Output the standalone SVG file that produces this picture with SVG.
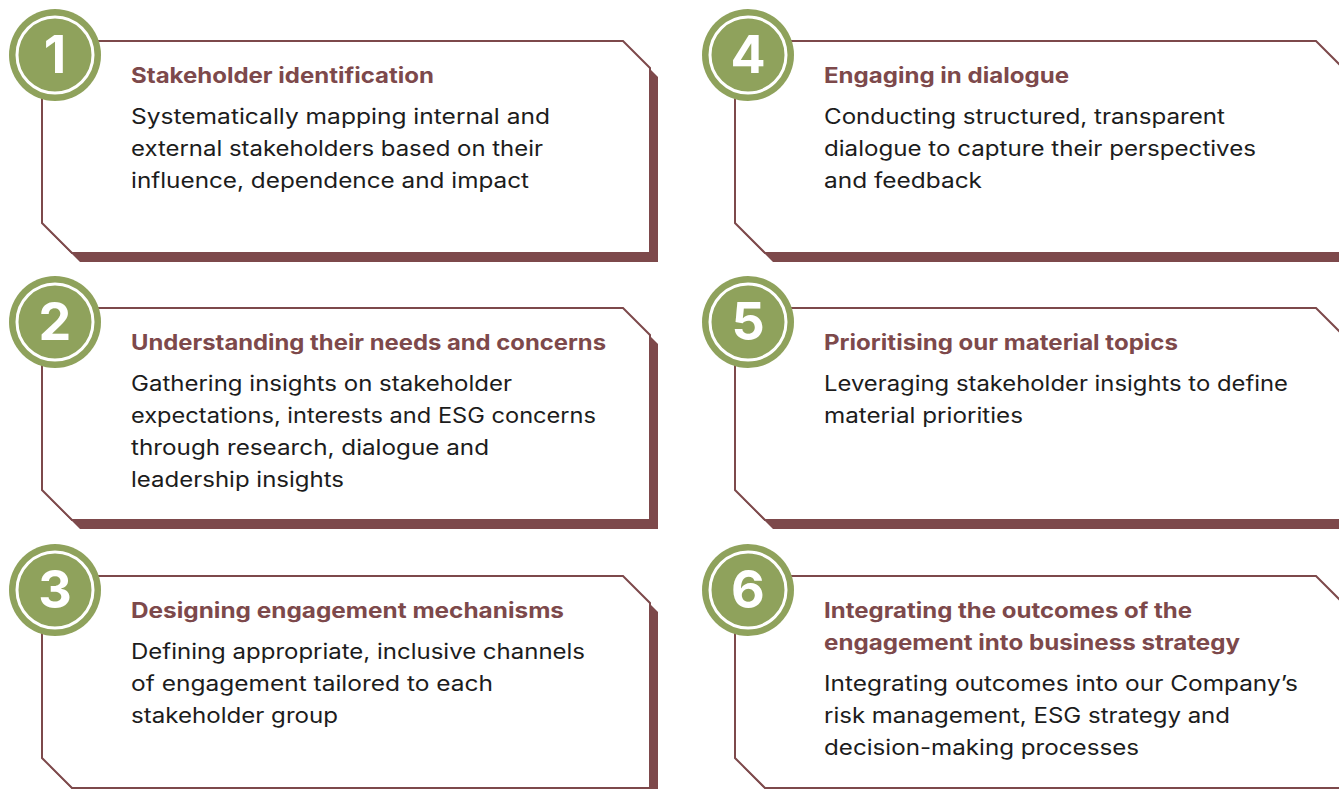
<svg xmlns="http://www.w3.org/2000/svg" xmlns:xlink="http://www.w3.org/1999/xlink" width="1339" height="789" viewBox="0 0 1339 789">
  <style>
    .shadow { fill: #7d494b; }
    .frame { fill: #ffffff; stroke: #7d494b; stroke-width: 2; stroke-linejoin: miter; }
    .badge { fill: #8fa25c; }
    .ring { fill: none; stroke: #ffffff; stroke-width: 3; }
    .num { fill: #ffffff; font-family: Inter, "Liberation Sans", sans-serif; font-weight: 700; font-size: 52px; text-anchor: middle; }
    .title { fill: #7d494b; font-family: Inter, "Liberation Sans", sans-serif; font-weight: 700; font-size: 21px; }
    .body { fill: #1c1c1c; font-family: Inter, "Liberation Sans", sans-serif; font-weight: 400; font-size: 21px; }
  </style>
  <defs>
    <!-- chamfered card outline: clipped top-right and bottom-left corners -->
    <path id="card" d="M42,41 H623 L650,68 V253 H72 L42,223 Z"/>
    <g id="badge">
      <circle class="badge" cx="55" cy="55" r="46"/>
      <circle class="ring" cx="55" cy="55" r="38"/>
    </g>
  </defs>

  <rect width="1339" height="789" fill="#ffffff"/>

  <!-- step 1 -->
  <g id="step1">
    <use href="#card" class="shadow" transform="translate(8,9)"/>
    <use href="#card" class="frame"/>
    <use href="#badge"/>
    <text class="num" x="55" y="73">1</text>
    <text class="title" x="131" y="83" textLength="303" lengthAdjust="spacingAndGlyphs">Stakeholder identification</text>
    <text class="body" x="131" y="124" textLength="419" lengthAdjust="spacingAndGlyphs">Systematically mapping internal and</text>
    <text class="body" x="131" y="156" textLength="412" lengthAdjust="spacingAndGlyphs">external stakeholders based on their</text>
    <text class="body" x="131" y="188" textLength="398" lengthAdjust="spacingAndGlyphs">influence, dependence and impact</text>
  </g>

  <!-- step 2 -->
  <g id="step2" transform="translate(0,267)">
    <use href="#card" class="shadow" transform="translate(8,9)"/>
    <use href="#card" class="frame"/>
    <use href="#badge"/>
    <text class="num" x="55" y="73">2</text>
    <text class="title" x="131" y="83" textLength="475" lengthAdjust="spacingAndGlyphs">Understanding their needs and concerns</text>
    <text class="body" x="131" y="124" textLength="381" lengthAdjust="spacingAndGlyphs">Gathering insights on stakeholder</text>
    <text class="body" x="131" y="156" textLength="465" lengthAdjust="spacingAndGlyphs">expectations, interests and ESG concerns</text>
    <text class="body" x="131" y="188" textLength="358" lengthAdjust="spacingAndGlyphs">through research, dialogue and</text>
    <text class="body" x="131" y="220" textLength="213" lengthAdjust="spacingAndGlyphs">leadership insights</text>
  </g>

  <!-- step 3 -->
  <g id="step3" transform="translate(0,535)">
    <use href="#card" class="shadow" transform="translate(8,9)"/>
    <use href="#card" class="frame"/>
    <use href="#badge"/>
    <text class="num" x="55" y="73">3</text>
    <text class="title" x="131" y="83" textLength="433" lengthAdjust="spacingAndGlyphs">Designing engagement mechanisms</text>
    <text class="body" x="131" y="124" textLength="454" lengthAdjust="spacingAndGlyphs">Defining appropriate, inclusive channels</text>
    <text class="body" x="131" y="156" textLength="362" lengthAdjust="spacingAndGlyphs">of engagement tailored to each</text>
    <text class="body" x="131" y="188" textLength="207" lengthAdjust="spacingAndGlyphs">stakeholder group</text>
  </g>

  <!-- step 4 -->
  <g id="step4" transform="translate(693,0)">
    <use href="#card" class="shadow" transform="translate(8,9)"/>
    <use href="#card" class="frame"/>
    <use href="#badge"/>
    <text class="num" x="55" y="73">4</text>
    <text class="title" x="131" y="83" textLength="245" lengthAdjust="spacingAndGlyphs">Engaging in dialogue</text>
    <text class="body" x="131" y="124" textLength="401" lengthAdjust="spacingAndGlyphs">Conducting structured, transparent</text>
    <text class="body" x="131" y="156" textLength="432" lengthAdjust="spacingAndGlyphs">dialogue to capture their perspectives</text>
    <text class="body" x="131" y="188" textLength="158" lengthAdjust="spacingAndGlyphs">and feedback</text>
  </g>

  <!-- step 5 -->
  <g id="step5" transform="translate(693,267)">
    <use href="#card" class="shadow" transform="translate(8,9)"/>
    <use href="#card" class="frame"/>
    <use href="#badge"/>
    <text class="num" x="55" y="73">5</text>
    <text class="title" x="131" y="83" textLength="354" lengthAdjust="spacingAndGlyphs">Prioritising our material topics</text>
    <text class="body" x="131" y="124" textLength="464" lengthAdjust="spacingAndGlyphs">Leveraging stakeholder insights to define</text>
    <text class="body" x="131" y="156" textLength="199" lengthAdjust="spacingAndGlyphs">material priorities</text>
  </g>

  <!-- step 6 -->
  <g id="step6" transform="translate(693,535)">
    <use href="#card" class="shadow" transform="translate(8,9)"/>
    <use href="#card" class="frame"/>
    <use href="#badge"/>
    <text class="num" x="55" y="73">6</text>
    <text class="title" x="131" y="83" textLength="368" lengthAdjust="spacingAndGlyphs">Integrating the outcomes of the</text>
    <text class="title" x="131" y="115" textLength="416" lengthAdjust="spacingAndGlyphs">engagement into business strategy</text>
    <text class="body" x="131" y="156" textLength="474" lengthAdjust="spacingAndGlyphs">Integrating outcomes into our Company’s</text>
    <text class="body" x="131" y="188" textLength="406" lengthAdjust="spacingAndGlyphs">risk management, ESG strategy and</text>
    <text class="body" x="131" y="220" textLength="315" lengthAdjust="spacingAndGlyphs">decision-making processes</text>
  </g>
</svg>
